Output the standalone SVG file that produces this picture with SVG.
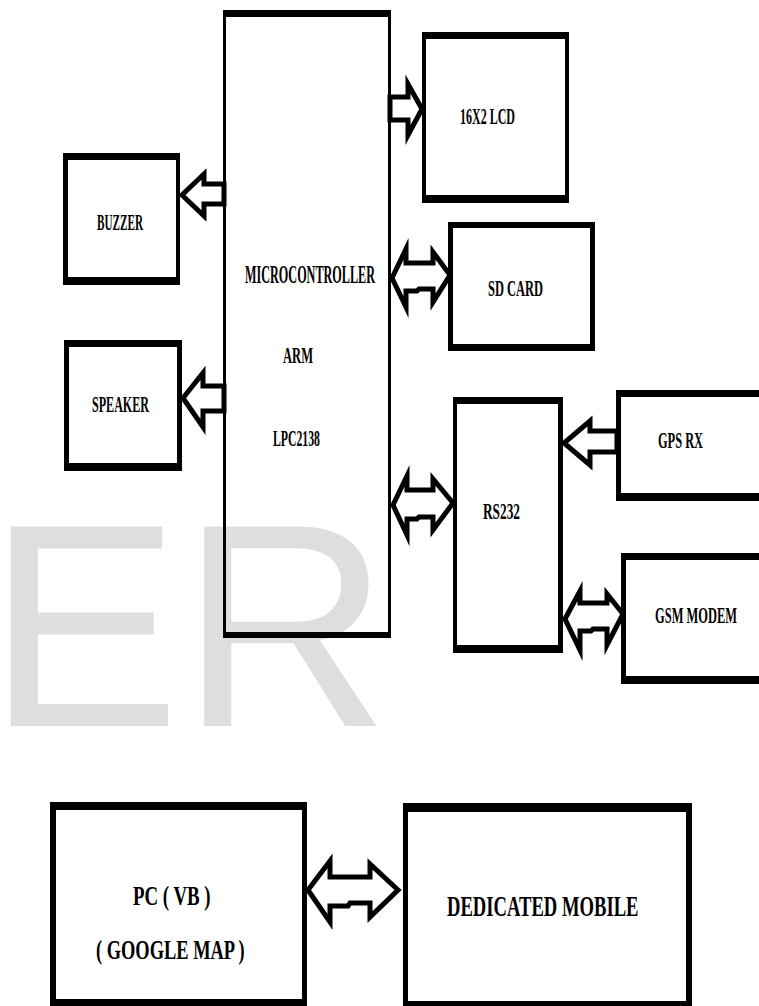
<svg xmlns="http://www.w3.org/2000/svg" width="759" height="1006" viewBox="0 0 759 1006">
<style>
.box{fill:#000;fill-rule:evenodd}
.arr{fill:#fff;stroke:#000;stroke-width:5;stroke-linejoin:miter;stroke-miterlimit:10}
.lbl{font-family:"Liberation Serif","Times New Roman",serif;font-weight:bold;fill:#000}
.wm{font-family:"Liberation Sans",Arial,sans-serif;fill:#dedede}
</style>
<rect width="759" height="1006" fill="#fff"/>
<text class="wm" x="-13" y="726" font-size="290">ER</text>
<g id="connectors">
<polygon class="arr" points="224,184 204,184 204,174 182,195 204,216 204,204 224,204"/>
<polygon class="arr" points="224,386 203,386 203,373 183,398 203,427 203,411 224,411"/>
<polygon class="arr" points="390,97 408,97 408,84 422,109 408,135 408,120 390,120"/>
<polygon class="arr" points="617,431 590,431 590,421 564,443 590,465 590,452 617,452"/>
<polygon class="arr" points="392,278 406,249 406,263 433,263 433,252 450,275 433,302 433,289 419,289 417,291 406,291 406,307"/>
<polygon class="arr" points="393,505 407,476 407,490 433,490 433,479 453,503 433,530 433,517 419,517 417,519 407,519 407,535"/>
<polygon class="arr" points="565,619 580,591 580,603 607,603 607,594 623,614 607,645 607,629 593,629 591,631 580,631 580,650"/>
<polygon class="arr" points="308,890 330,861 330,877 370,877 370,864 398,890 370,917 370,903 350,903 348,906 330,906 330,922"/>
</g>
<g id="mcu">
<path class="box" d="M223,10H391V638H223Z M226,17V632H388V17Z"/>
<text class="lbl" transform="translate(245,283) scale(0.469,1)" font-size="26">MICROCONTROLLER</text>
<text class="lbl" transform="translate(283,363) scale(0.524,1)" font-size="24">ARM</text>
<text class="lbl" transform="translate(273,446) scale(0.49,1)" font-size="24">LPC2138</text>
</g>
<g id="lcd">
<path class="box" d="M422,32H569V203H422Z M426,39V195H565V39Z"/>
<text class="lbl" transform="translate(460,124) scale(0.5,1)" font-size="24">16X2 LCD</text>
</g>
<g id="buzzer">
<path class="box" d="M63,153H180V285H63Z M68,160V277H176V160Z"/>
<text class="lbl" transform="translate(97,230) scale(0.486,1)" font-size="23">BUZZER</text>
</g>
<g id="speaker">
<path class="box" d="M64,340H182V471H64Z M69,347V463H177V347Z"/>
<text class="lbl" transform="translate(92,412) scale(0.525,1)" font-size="23">SPEAKER</text>
</g>
<g id="sdcard">
<path class="box" d="M448,222H595V351H448Z M453,228V344H590V228Z"/>
<text class="lbl" transform="translate(488,296) scale(0.519,1)" font-size="24">SD CARD</text>
</g>
<g id="rs232">
<path class="box" d="M453,397H563V653H453Z M457,404V645H558V404Z"/>
<text class="lbl" transform="translate(483,519) scale(0.579,1)" font-size="23">RS232</text>
</g>
<g id="gps">
<path class="box" d="M616,390H775V501H616Z M621,397V493H770V397Z"/>
<text class="lbl" transform="translate(658,448) scale(0.538,1)" font-size="23">GPS RX</text>
</g>
<g id="gsm">
<path class="box" d="M621,553H775V684H621Z M626,560V676H770V560Z"/>
<text class="lbl" transform="translate(655,623) scale(0.52,1)" font-size="24">GSM MODEM</text>
</g>
<g id="pc">
<path class="box" d="M50,802H307V1012H50Z M56,810V999H302V810Z"/>
<text class="lbl" transform="translate(133,905) scale(0.698,1)" font-size="27">PC ( VB )</text>
<text class="lbl" transform="translate(96,959) scale(0.682,1)" font-size="27">( GOOGLE MAP )</text>
</g>
<g id="mobile">
<path class="box" d="M403,803H692V1012H403Z M408,812V1001H686V812Z"/>
<text class="lbl" transform="translate(447,916) scale(0.642,1)" font-size="29">DEDICATED MOBILE</text>
</g>
</svg>
